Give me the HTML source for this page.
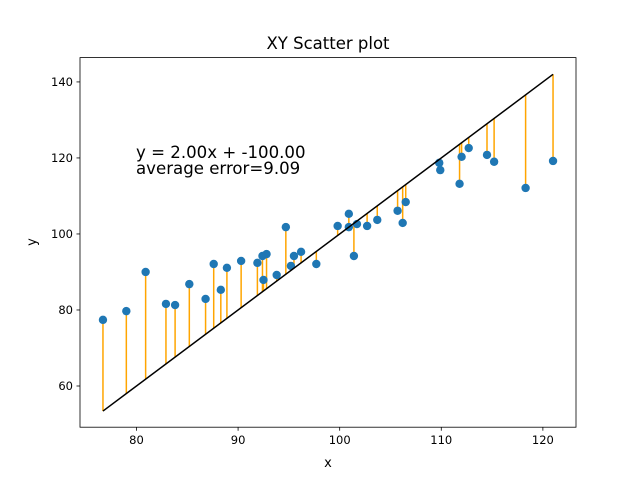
<!DOCTYPE html>
<html><head><meta charset="utf-8"><style>body{margin:0;background:#fff}svg{display:block;font-family:"DejaVu Sans","Liberation Sans",sans-serif}</style></head>
<body>
<svg id="c" width="640" height="480"></svg>
<script>
const xs=[76.7,79.0,80.9,82.9,83.8,85.2,86.8,87.6,88.3,88.9,90.3,91.9,92.4,92.5,92.8,93.8,94.7,95.2,95.5,96.2,97.7,99.8,100.9,100.9,101.4,101.7,102.7,103.7,105.7,106.2,106.5,109.8,109.9,111.8,112.0,112.7,114.5,115.2,118.3,121.0];
const ys=[77.4,79.7,90.0,81.6,81.3,86.8,82.9,92.1,85.3,91.1,92.9,92.4,94.2,87.9,94.7,89.2,101.8,91.6,94.2,95.3,92.1,102.1,105.3,101.8,94.2,102.6,102.1,103.7,106.1,102.9,108.4,118.7,116.8,113.2,120.3,122.6,120.8,119.0,112.1,119.2];
const slope=[2.0];
const intercept=[-100.0];
const xTicks=[80,90,100,110,120];
const yTicks=[60,80,100,120,140];
const errText=["average error=9.09"];
const L=80,R=576,T=57.6,B=427.2,x0=74.44,x1=123.26,y0=49.16,y1=146.4;
const sx=v=>L+(v-x0)/(x1-x0)*(R-L), sy=v=>B-(v-y0)/(y1-y0)*(B-T);
const svg=document.getElementById('c');const NS='http://www.w3.org/2000/svg';
function mk(t,a,txt){const e=document.createElementNS(NS,t);for(const k in a)e.setAttribute(k,a[k]);if(txt!==undefined)e.textContent=txt;svg.appendChild(e);return e;}
const f=x=>slope[0]*x+intercept[0];
const xmn=Math.min(...xs),xmx=Math.max(...xs);
xs.forEach((x,i)=>{const e=mk('line',{x1:sx(x),x2:sx(x),y1:sy(ys[i]),y2:sy(f(x)),stroke:'orange','stroke-width':1.5});

});
xs.forEach((x,i)=>{const e=mk('circle',{cx:sx(x),cy:sy(ys[i]),r:4.2,fill:'#1f77b4'});

});
const fl=mk('line',{x1:sx(xmn),y1:sy(f(xmn)),x2:sx(xmx),y2:sy(f(xmx)),stroke:'#000','stroke-width':1.5});


const fr=mk('rect',{x:L,y:T,width:R-L,height:B-T,fill:'none',stroke:'#000','stroke-width':0.8});


xTicks.forEach(t=>{mk('line',{x1:sx(t),x2:sx(t),y1:B,y2:B+3.5,stroke:'#000','stroke-width':0.8});
const e=mk('text',{x:sx(t),y:B+17,'text-anchor':'middle','font-size':'11.5'},t);

});
yTicks.forEach(t=>{mk('line',{x1:L,x2:L-3.5,y1:sy(t),y2:sy(t),stroke:'#000','stroke-width':0.8});
const e=mk('text',{x:L-7,y:sy(t)+4,'text-anchor':'end','font-size':'11.5'},t);

});
let e=mk('text',{x:328,y:49,'text-anchor':'middle','font-size':'16.5'},'XY Scatter plot');


e=mk('text',{x:328,y:467,'text-anchor':'middle','font-size':'13'},'x');


e=mk('text',{x:36,y:242,'text-anchor':'middle','font-size':'13',transform:'rotate(-90 36 242)'},'y');


e=mk('text',{x:136,y:158,'font-size':'16.6'},'y = '+slope[0].toFixed(2)+'x + '+intercept[0].toFixed(2));


e=mk('text',{x:136,y:174,'font-size':'16.6'},errText[0]);


</script>
</body></html>
